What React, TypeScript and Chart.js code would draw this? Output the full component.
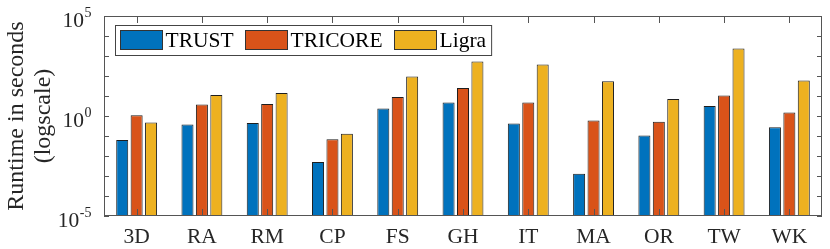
import React, { useEffect, useRef } from "react";
import { Chart, registerables } from "chart.js";

Chart.register(...registerables);

const categories = ["3D", "RA", "RM", "CP", "FS", "GH", "IT", "MA", "OR", "TW", "WK"];
const seriesNames = ["TRUST", "TRICORE", "Ligra"];
const seriesColors = ["#0072BD", "#D95319", "#EDB120"];
const trust = [0.063, 0.38, 0.45, 0.005, 2.34, 4.7, 0.42, 0.0013, 0.107, 3.16, 0.27];
const tricore = [1.1, 3.8, 4.0, 0.068, 8.9, 25, 4.8, 0.6, 0.52, 10.7, 1.5];
const ligra = [0.47, 11.2, 14.1, 0.13, 95, 537, 372, 54, 7.1, 2400, 60];
const yExponents = [-5, -4, -3, -2, -1, 0, 1, 2, 3, 4, 5];
const yLabelExponents = ["-5", "0", "5"];
const yTitle = ["Runtime in seconds", "(logscale)"];

const FONT = '"Liberation Serif", "Times New Roman", serif';
const AX = "#555555";
const TXT = "#262626";

const framePlugin = {
  id: "matlabFrame",
  afterDatasetsDraw(chart: any) {
    const { ctx, chartArea } = chart;
    const { left, right, top, bottom } = chartArea;
    const xs = chart.scales.x;
    const ys = chart.scales.y;
    ctx.save();
    ctx.strokeStyle = AX;
    ctx.lineWidth = 1;
    ctx.beginPath();
    for (let i = 0; i < categories.length; i++) {
      const x = Math.round(xs.getPixelForTick(i)) + 0.5;
      ctx.moveTo(x, bottom);
      ctx.lineTo(x, bottom - 7);
      ctx.moveTo(x, top);
      ctx.lineTo(x, top + 7);
    }
    for (const e of yExponents) {
      const y = Math.round(ys.getPixelForValue(Math.pow(10, e))) + 0.5;
      ctx.moveTo(left, y);
      ctx.lineTo(left + 5, y);
      ctx.moveTo(right, y);
      ctx.lineTo(right - 5, y);
    }
    ctx.stroke();
    ctx.strokeRect(Math.round(left) + 0.5, Math.round(top) + 0.5, Math.round(right - left) - 1, Math.round(bottom - top) - 1);

    ctx.fillStyle = TXT;
    ctx.textBaseline = "alphabetic";
    for (const ex of yLabelExponents) {
      const t = ys.getPixelForValue(Math.pow(10, Number(ex)));
      ctx.font = `14px ${FONT}`;
      const ew = ctx.measureText(ex).width;
      ctx.font = `21.5px ${FONT}`;
      const bw = ctx.measureText("10").width;
      const rightEdge = 91.5;
      ctx.textAlign = "left";
      ctx.fillText("10", rightEdge - ew - bw - 0.5, t + 10.7);
      ctx.font = `14px ${FONT}`;
      ctx.fillText(ex, rightEdge - ew, t + 0.7);
    }

    ctx.save();
    ctx.translate(0, 116);
    ctx.rotate(-Math.PI / 2);
    ctx.font = `24px ${FONT}`;
    ctx.textAlign = "center";
    ctx.fillText(yTitle[0], 0, 23);
    ctx.fillText(yTitle[1], 0, 50);
    ctx.restore();
    ctx.restore();
  },
  afterDraw(chart: any) {
    const { ctx } = chart;
    const ds = chart.data.datasets;
    ctx.save();
    ctx.font = `21.5px ${FONT}`;
    const x0 = 115;
    const y0 = 25;
    const h = 30;
    let x = x0 + 4.5;
    const pos: number[] = [];
    for (let i = 0; i < ds.length; i++) {
      pos.push(x);
      x += 42 + 4 + ctx.measureText(ds[i].label).width + 11;
    }
    const boxRight = x - 11 + 5;
    ctx.fillStyle = "#ffffff";
    ctx.fillRect(x0, y0, boxRight - x0, h);
    ctx.strokeStyle = "#444444";
    ctx.lineWidth = 1;
    ctx.strokeRect(x0 + 0.5, y0 + 0.5, boxRight - x0, h);
    for (let i = 0; i < ds.length; i++) {
      const sx = Math.round(pos[i]) + 0.5;
      ctx.fillStyle = ds[i].backgroundColor;
      ctx.fillRect(sx, 30.5, 42, 19);
      ctx.strokeStyle = "#333333";
      ctx.strokeRect(sx, 30.5, 42, 19);
      ctx.fillStyle = "#000000";
      ctx.textBaseline = "alphabetic";
      ctx.textAlign = "left";
      ctx.fillText(ds[i].label, pos[i] + 46, 47.3);
    }
    ctx.restore();
  },
};

export default function App() {
  const ref = useRef<HTMLCanvasElement>(null);
  useEffect(() => {
    if (!ref.current) return;
    const series = [trust, tricore, ligra];
    const chart = new Chart(ref.current, {
      type: "bar",
      data: {
        labels: categories,
        datasets: series.map((d, i) => ({
          label: seriesNames[i],
          data: d,
          backgroundColor: seriesColors[i],
          borderColor: "#1e1e1e",
          borderWidth: 1,
          categoryPercentage: 0.663,
          barPercentage: 0.833,
        })),
      },
      options: {
        responsive: false,
        animation: false,
        devicePixelRatio: 1,
        layout: { padding: { left: 0, top: 16, right: 8, bottom: 0 } },
        plugins: { legend: { display: false }, tooltip: { enabled: false } },
        scales: {
          x: {
            grid: { display: false, drawTicks: false },
            border: { display: false },
            ticks: {
              font: { family: FONT, size: 21.5 },
              color: TXT,
              padding: 8,
              maxRotation: 0,
              autoSkip: false,
            },
            afterFit: (s: any) => {
              s.height = 33;
            },
          },
          y: {
            type: "logarithmic",
            min: 1e-5,
            max: 1e5,
            grid: { display: false, drawTicks: false },
            border: { display: false },
            ticks: { display: false },
            afterBuildTicks: (s: any) => {
              s.ticks = yExponents.map((e) => ({ value: Math.pow(10, e) }));
            },
            afterFit: (s: any) => {
              s.width = 104;
            },
          },
        },
      },
      plugins: [framePlugin],
    });
    return () => chart.destroy();
  }, []);
  return (
    <div style={{ position: "fixed", left: 0, top: 0, width: 830, height: 249, background: "#fff" }}>
      <canvas ref={ref} width={830} height={249} style={{ width: 830, height: 249, display: "block" }} />
    </div>
  );
}
